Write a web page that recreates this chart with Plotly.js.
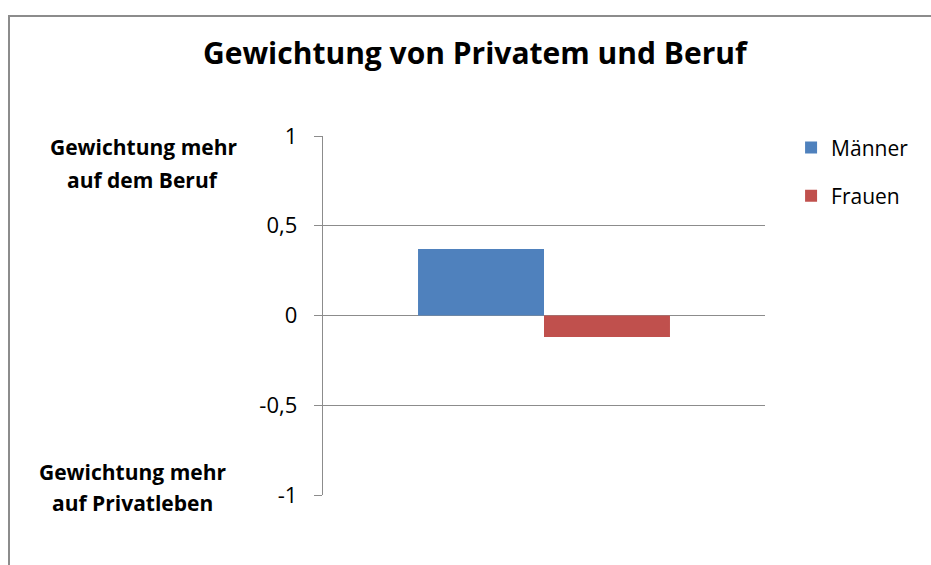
<!DOCTYPE html>
<html>
<head>
<meta charset="utf-8">
<script src="https://cdn.plot.ly/plotly-3.0.1.min.js"></script>
<style>
body{margin:0;padding:0;background:#fff;}
#wrap{position:relative;width:931px;height:565px;}
#frame{position:absolute;left:8px;top:15px;width:930px;height:560px;border-left:2px solid #8c8c8c;border-top:2px solid #8c8c8c;box-sizing:border-box;pointer-events:none;}
#chart{position:absolute;left:0;top:0;width:931px;height:565px;}
</style>
</head>
<body>
<div id="wrap"><div id="chart"></div><div id="frame"></div></div>
<script>
var categories = [""];
var seriesNames = ["Männer", "Frauen"];
var maennerValues = [0.37];
var frauenValues = [-0.12];
var tickValues = [-1, -0.5, 0, 0.5, 1];
var tickLabels = ["-1", "-0,5", "0", "0,5", "1"];
var topLabelLines = ["Gewichtung mehr", "auf dem Beruf"];
var bottomLabelLines = ["Gewichtung mehr", "auf Privatleben"];
var colors = ["#4f81bd", "#c0504d"];
var FONT = "'Open Sans', sans-serif";

var traces = [
  {type:"bar", name:seriesNames[0], x:categories, y:maennerValues, marker:{color:colors[0]}, legendgroup:"a", hoverinfo:"none"},
  {type:"bar", name:seriesNames[1], x:categories, y:frauenValues, marker:{color:colors[1]}, legendgroup:"b", hoverinfo:"none"}
];

function lab(t, x, y) {
  return {text:"<b>" + t + "</b>", xref:"paper", yref:"paper", x:x, y:y, xanchor:"center", yanchor:"middle", showarrow:false, font:{family:FONT, size:21, color:"#000"}, align:"center"};
}

var layout = {
  width:931, height:565,
  margin:{l:323, r:166, t:136, b:70},
  paper_bgcolor:"#fff", plot_bgcolor:"#fff",
  font:{family:FONT, color:"#000", size:21},
  title:{text:"<b>Gewichtung von Privatem und Beruf</b>", font:{family:FONT, size:30, color:"#000"}, x:0.51, xref:"container", y:0.906, yref:"container", yanchor:"middle", xanchor:"center"},
  barmode:"group",
  bargap:0.43,
  bargroupgap:0,
  showlegend:true,
  legend:{x:1.059, xanchor:"left", y:1.024, yanchor:"top", traceorder:"grouped", tracegroupgap:18, font:{family:FONT, size:21, color:"#000"}, bgcolor:"rgba(0,0,0,0)"},
  xaxis:{showticklabels:false, showgrid:false, zeroline:false, showline:false, ticks:"", fixedrange:true},
  yaxis:{range:[-1,1], tickvals:tickValues, ticktext:tickLabels, showgrid:true, gridcolor:"#8c8c8c", gridwidth:1.3, zeroline:true, zerolinecolor:"#8c8c8c", zerolinewidth:1.3, showline:true, linecolor:"#8c8c8c", linewidth:1.3, ticks:"outside", ticklen:8, tickcolor:"#8c8c8c", ticklabelstandoff:12, tickfont:{family:FONT, size:22, color:"#000"}, fixedrange:true},
  annotations:[
    lab(topLabelLines[0], -0.407, 0.969),
    lab(topLabelLines[1], -0.407, 0.877),
    lab(bottomLabelLines[0], -0.430, 0.064),
    lab(bottomLabelLines[1], -0.430, -0.022)
  ]
};

Plotly.newPlot("chart", traces, layout, {displayModeBar:false, staticPlot:true});
</script>
</body>
</html>
